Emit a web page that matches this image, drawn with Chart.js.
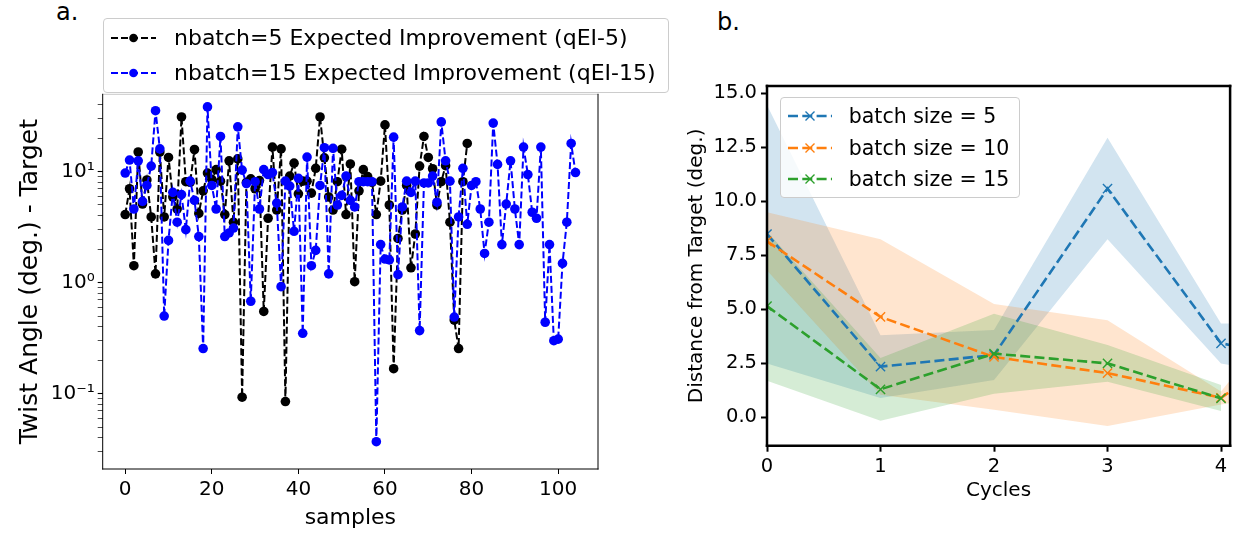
<!DOCTYPE html>
<html>
<head>
<meta charset="utf-8">
<script src="https://cdn.jsdelivr.net/npm/chart.js@4.4.0/dist/chart.umd.min.js"></script>
<style>
  body { margin: 0; width: 1238px; height: 533px; background: #fff; position: relative; overflow: hidden; font-family: "DejaVu Sans", sans-serif; color: #000; }
  .panel { position: absolute; top: 0; height: 533px; }
  #wrap-a { left: 0; width: 620px; }
  #wrap-b { left: 640px; width: 598px; }
  .tag { position: absolute; font-size: 24px; line-height: 24px; }
  .legend { position: absolute; background: rgba(255,255,255,0.8); border: 1px solid #ccc; border-radius: 4px; box-sizing: border-box; }
  .row { position: absolute; white-space: nowrap; }
  .row svg { position: absolute; left: 0; top: 50%; transform: translateY(-50%); }
</style>
</head>
<body>
<div class="tag" style="left:56px;top:0px">a.</div>
<div class="tag" style="left:717px;top:10px">b.</div>
<div class="panel" id="wrap-a"><canvas id="chart-a" width="620" height="533"></canvas></div>
<div class="panel" id="wrap-b"><canvas id="chart-b" width="598" height="533"></canvas></div>
<div class="legend" id="legend-a" style="left:102.7px;top:18.3px;width:566px;height:74.4px"></div>
<div class="legend" id="legend-b" style="left:780px;top:97.3px;width:240px;height:101px"></div>

<script>
// panel a: twist angle error per sample (log scale)
const qei5Values = [
  4.1, 7.0, 1.42, 15.0, 5.1, 8.4, 3.9, 1.2, 15.0, 3.9,
  13.4, 5.9, 4.6, 31.0, 8.1, 8.0, 15.8, 4.2, 6.7, 9.7,
  8.5, 10.4, 8.2, 4.1, 12.5, 3.5, 13.0, 0.093, 8.0, 8.6,
  7.0, 8.3, 0.55, 3.8, 16.6, 4.5, 16.0, 0.085, 9.1, 11.9,
  6.3, 8.2, 8.2, 6.4, 10.7, 31.0, 13.3, 5.9, 4.5, 8.1,
  15.9, 4.1, 11.7, 1.02, 6.7, 10.4, 9.0, 8.0, 4.1, 8.2,
  26.3, 5.0, 0.168, 2.5, 4.5, 7.5, 1.36, 2.74, 11.2, 20.7,
  13.4, 10.6, 5.0, 8.1, 11.3, 3.5, 0.46, 0.255, 8.1, 17.9
];
const qei15Values = [
  9.7, 12.7, 4.6, 12.5, 5.4, 7.5, 11.2, 35.3, 16.0, 0.50,
  2.4, 6.5, 3.5, 6.2, 3.0, 8.2, 5.5, 2.6, 0.255, 38.2,
  7.5, 4.6, 20.7, 2.6, 2.8, 3.1, 25.3, 10.3, 7.8, 0.68,
  8.1, 4.6, 10.4, 9.4, 9.8, 5.2, 0.92, 8.2, 7.4, 2.9,
  8.7, 0.35, 13.5, 1.42, 1.95, 7.5, 16.4, 1.2, 16.2, 5.0,
  6.1, 9.1, 5.5, 4.8, 8.1, 8.1, 8.1, 8.1, 0.037, 2.2,
  1.63, 1.6, 20.4, 1.18, 4.8, 8.2, 6.5, 8.2, 0.37, 7.9,
  7.9, 9.1, 5.3, 28.0, 12.5, 8.2, 0.49, 3.9, 10.7, 3.35,
  7.5, 8.1, 4.6, 1.83, 3.5, 27.3, 11.6, 2.2, 5.1, 12.5,
  4.6, 2.2, 16.6, 9.4, 4.3, 3.8, 16.6, 0.44, 2.2, 0.30,
  0.31, 1.49, 3.5, 17.9, 9.8
];
const seriesA = [
  { label: "nbatch=5 Expected Improvement (qEI-5)", color: "#000000", values: qei5Values },
  { label: "nbatch=15 Expected Improvement (qEI-15)", color: "#0000ff", values: qei15Values }
];
const sampleTicks = [0, 20, 40, 60, 80, 100];
const logLabels = { "0.1": "10\u207B\u00B9", "1": "10\u2070", "10": "10\u00B9" };

// panel b: mean distance per cycle with +/- band
const cycles = [0, 1, 2, 3, 4, 5];
const mean5 = [8.49, 2.35, 2.89, 10.59, 3.43, 2.43];
const upper5 = [14.46, 3.8, 4.05, 12.95, 4.35, 4.35];
const lower5 = [2.5, 0.9, 1.73, 8.25, 2.5, 1.5];
const mean10 = [8.15, 4.65, 2.8, 2.05, 0.91, 4.5];
const upper10 = [9.5, 8.25, 5.25, 4.5, 1.2, 7.6];
const lower10 = [6.8, 1.05, 0.35, -0.4, 0.6, 1.4];
const mean15 = [5.15, 1.3, 2.95, 2.5, 0.88, null];
const upper15 = [8.6, 2.75, 4.8, 3.35, 1.5, null];
const lower15 = [1.7, -0.15, 1.1, 1.65, 0.3, null];
const seriesB = [
  { label: "batch size = 5", rgb: "31,119,180", mean: mean5, upper: upper5, lower: lower5 },
  { label: "batch size = 10", rgb: "255,127,14", mean: mean10, upper: upper10, lower: lower10 },
  { label: "batch size = 15", rgb: "44,160,44", mean: mean15, upper: upper15, lower: lower15 }
];
const cycleTicks = [0, 1, 2, 3, 4];
const distanceTicks = [0, 2.5, 5, 7.5, 10, 12.5, 15];

Chart.defaults.font.family = "'DejaVu Sans', sans-serif";
Chart.defaults.color = "#000";

//draws the axes box from the chart area
const frame = {
  id: "frame",
  afterDatasetsDraw(chart, args, opts) {
    const { ctx, chartArea: a } = chart;
    const sides = [
      [a.left, a.top, a.right, a.top, opts.top],
      [a.right, a.top, a.right, a.bottom, opts.color],
      [a.right, a.bottom, a.left, a.bottom, opts.color],
      [a.left, a.bottom, a.left, a.top, opts.color]
    ];
    ctx.save();
    ctx.lineWidth = opts.width;
    ctx.lineCap = "square";
    sides.forEach(([x1, y1, x2, y2, c]) => {
      ctx.strokeStyle = c;
      ctx.beginPath();
      ctx.moveTo(x1, y1);
      ctx.lineTo(x2, y2);
      ctx.stroke();
    });
    ctx.restore();
  }
};

function minorLogTicks(min, max) {
  const out = [];
  for (let e = -2; e <= 1; e++) {
    for (let m = 1; m <= 9; m++) {
      const v = Number((m * Math.pow(10, e)).toPrecision(2));
      if (v >= min && v <= max) out.push(v);
    }
  }
  return out;
}

const yMinA = 0.021, yMaxA = 49.6;

new Chart(document.getElementById("chart-a"), {
  type: "line",
  data: {
    datasets: seriesA.map((s, i) => ({
      label: s.label,
      data: s.values.map((v, k) => ({ x: k, y: v })),
      borderColor: s.color,
      backgroundColor: s.color,
      borderWidth: 2,
      borderDash: [7, 3],
      pointRadius: 4.8,
      pointBorderWidth: 0,
      pointBackgroundColor: s.color,
      order: seriesA.length - i
    }))
  },
  options: {
    responsive: false,
    animation: false,
    devicePixelRatio: 1,
    layout: { padding: { top: 94.3, right: 22, bottom: 0, left: 0 } },
    plugins: {
      legend: { display: false },
      tooltip: { enabled: false },
      frame: { width: 1, color: "#000", top: "#c8c8c8" }
    },
    scales: {
      x: {
        type: "linear", min: -5.2, max: 109.2,
        afterBuildTicks: (s) => { s.ticks = sampleTicks.map((v) => ({ value: v })); },
        afterFit: (s) => { s.height = 64; },
        ticks: { font: { size: 20 }, padding: 4, maxRotation: 0, autoSkip: false },
        grid: { drawOnChartArea: false, tickLength: 5, tickColor: "#000", tickWidth: 1 },
        border: { display: false },
        title: { display: true, text: "samples", font: { size: 22 }, padding: { top: 0, bottom: 2 } }
      },
      y: {
        type: "logarithmic", min: yMinA, max: yMaxA,
        afterBuildTicks: (s) => { s.ticks = minorLogTicks(yMinA, yMaxA).map((v) => ({ value: v, major: !!logLabels[String(v)] })); },
        afterFit: (s) => { s.width = 102.7; },
        ticks: { font: { size: 20 }, padding: 3, autoSkip: false, callback: (v) => logLabels[String(v)] ?? "" },
        grid: {
          drawOnChartArea: false, tickLength: 5, tickColor: "#000",
          tickWidth: (c) => (c.tick && c.tick.major ? 1.1 : 0.7)
        },
        border: { display: false },
        title: { display: true, text: "Twist Angle (deg.) - Target", font: { size: 25 }, padding: { top: 15, bottom: 0 } }
      }
    }
  },
  plugins: [frame]
});

const bandSets = [];
seriesB.forEach((s, i) => {
  bandSets.push({
    data: s.lower.map((v, k) => ({ x: cycles[k], y: v })),
    borderWidth: 0, pointRadius: 0, fill: false, order: 20 + (3 - i)
  });
  bandSets.push({
    data: s.upper.map((v, k) => ({ x: cycles[k], y: v })),
    borderWidth: 0, pointRadius: 0, fill: "-1",
    backgroundColor: `rgba(${s.rgb},0.2)`, order: 20 + (3 - i)
  });
});
const lineSets = seriesB.map((s, i) => ({
  label: s.label,
  data: s.mean.map((v, k) => ({ x: cycles[k], y: v })),
  borderColor: `rgb(${s.rgb})`,
  borderWidth: 2.6,
  borderDash: [10, 4.3],
  fill: false,
  pointStyle: "crossRot",
  pointRadius: 6.5,
  pointBorderWidth: 1.4,
  pointBorderColor: `rgb(${s.rgb})`,
  order: 3 - i
}));

new Chart(document.getElementById("chart-b"), {
  type: "line",
  data: { datasets: bandSets.concat(lineSets) },
  options: {
    responsive: false,
    animation: false,
    devicePixelRatio: 1,
    layout: { padding: { top: 86, right: 2, bottom: 0, left: 0 } },
    plugins: {
      legend: { display: false },
      tooltip: { enabled: false },
      frame: { width: 2.5, color: "#000", top: "#000" }
    },
    scales: {
      x: {
        type: "linear", min: 0, max: 4.08,
        afterBuildTicks: (s) => { s.ticks = cycleTicks.map((v) => ({ value: v })); },
        afterFit: (s) => { s.height = 87.3; },
        ticks: { font: { size: 19.5 }, padding: 4, maxRotation: 0, autoSkip: false },
        grid: { drawOnChartArea: false, tickLength: 6, tickColor: "#000", tickWidth: 2 },
        border: { display: false },
        title: { display: true, text: "Cycles", font: { size: 20 }, padding: { top: 0, bottom: 30 } }
      },
      y: {
        type: "linear", min: -1.31, max: 15.34,
        afterBuildTicks: (s) => { s.ticks = distanceTicks.map((v) => ({ value: v })); },
        afterFit: (s) => { s.width = 127; },
        ticks: { font: { size: 19.5 }, padding: 4, autoSkip: false, callback: (v) => Number(v).toFixed(1) },
        grid: { drawOnChartArea: false, tickLength: 6, tickColor: "#000", tickWidth: 2 },
        border: { display: false },
        title: { display: true, text: "Distance from Target (deg.)", font: { size: 20 }, padding: { top: 45, bottom: 0 } }
      }
    }
  },
  plugins: [frame]
});

//html legends with matplotlib-like handles
function handleCircle(color) {
  return `<svg width="45" height="12"><line x1="0" y1="6" x2="45" y2="6" stroke="${color}" stroke-width="2" stroke-dasharray="7 3"/><circle cx="22.5" cy="6" r="4.3" fill="${color}"/></svg>`;
}
function handleCross(color) {
  return `<svg width="44" height="14"><line x1="0" y1="7" x2="44" y2="7" stroke="${color}" stroke-width="2.6" stroke-dasharray="10 4.3"/><path d="M17.5 2.5 L26.5 11.5 M26.5 2.5 L17.5 11.5" stroke="${color}" stroke-width="1.4"/></svg>`;
}
document.getElementById("legend-a").innerHTML = seriesA.map((s, i) => `
  <div class="row" style="left:7.3px;top:${19 + i * 35 - 14}px;height:28px;width:550px">
    ${handleCircle(s.color)}
    <span style="position:absolute;left:63px;top:0;font-size:22px;line-height:28px">${s.label}</span>
  </div>`).join("");
document.getElementById("legend-b").innerHTML = seriesB.map((s, i) => `
  <div class="row" style="left:7px;top:${17.7 + i * 31.65 - 13}px;height:26px;width:230px">
    ${handleCross(`rgb(${s.rgb})`)}
    <span style="position:absolute;left:60.8px;top:0;font-size:20.5px;line-height:26px">${s.label}</span>
  </div>`).join("");
</script>
</body>
</html>
